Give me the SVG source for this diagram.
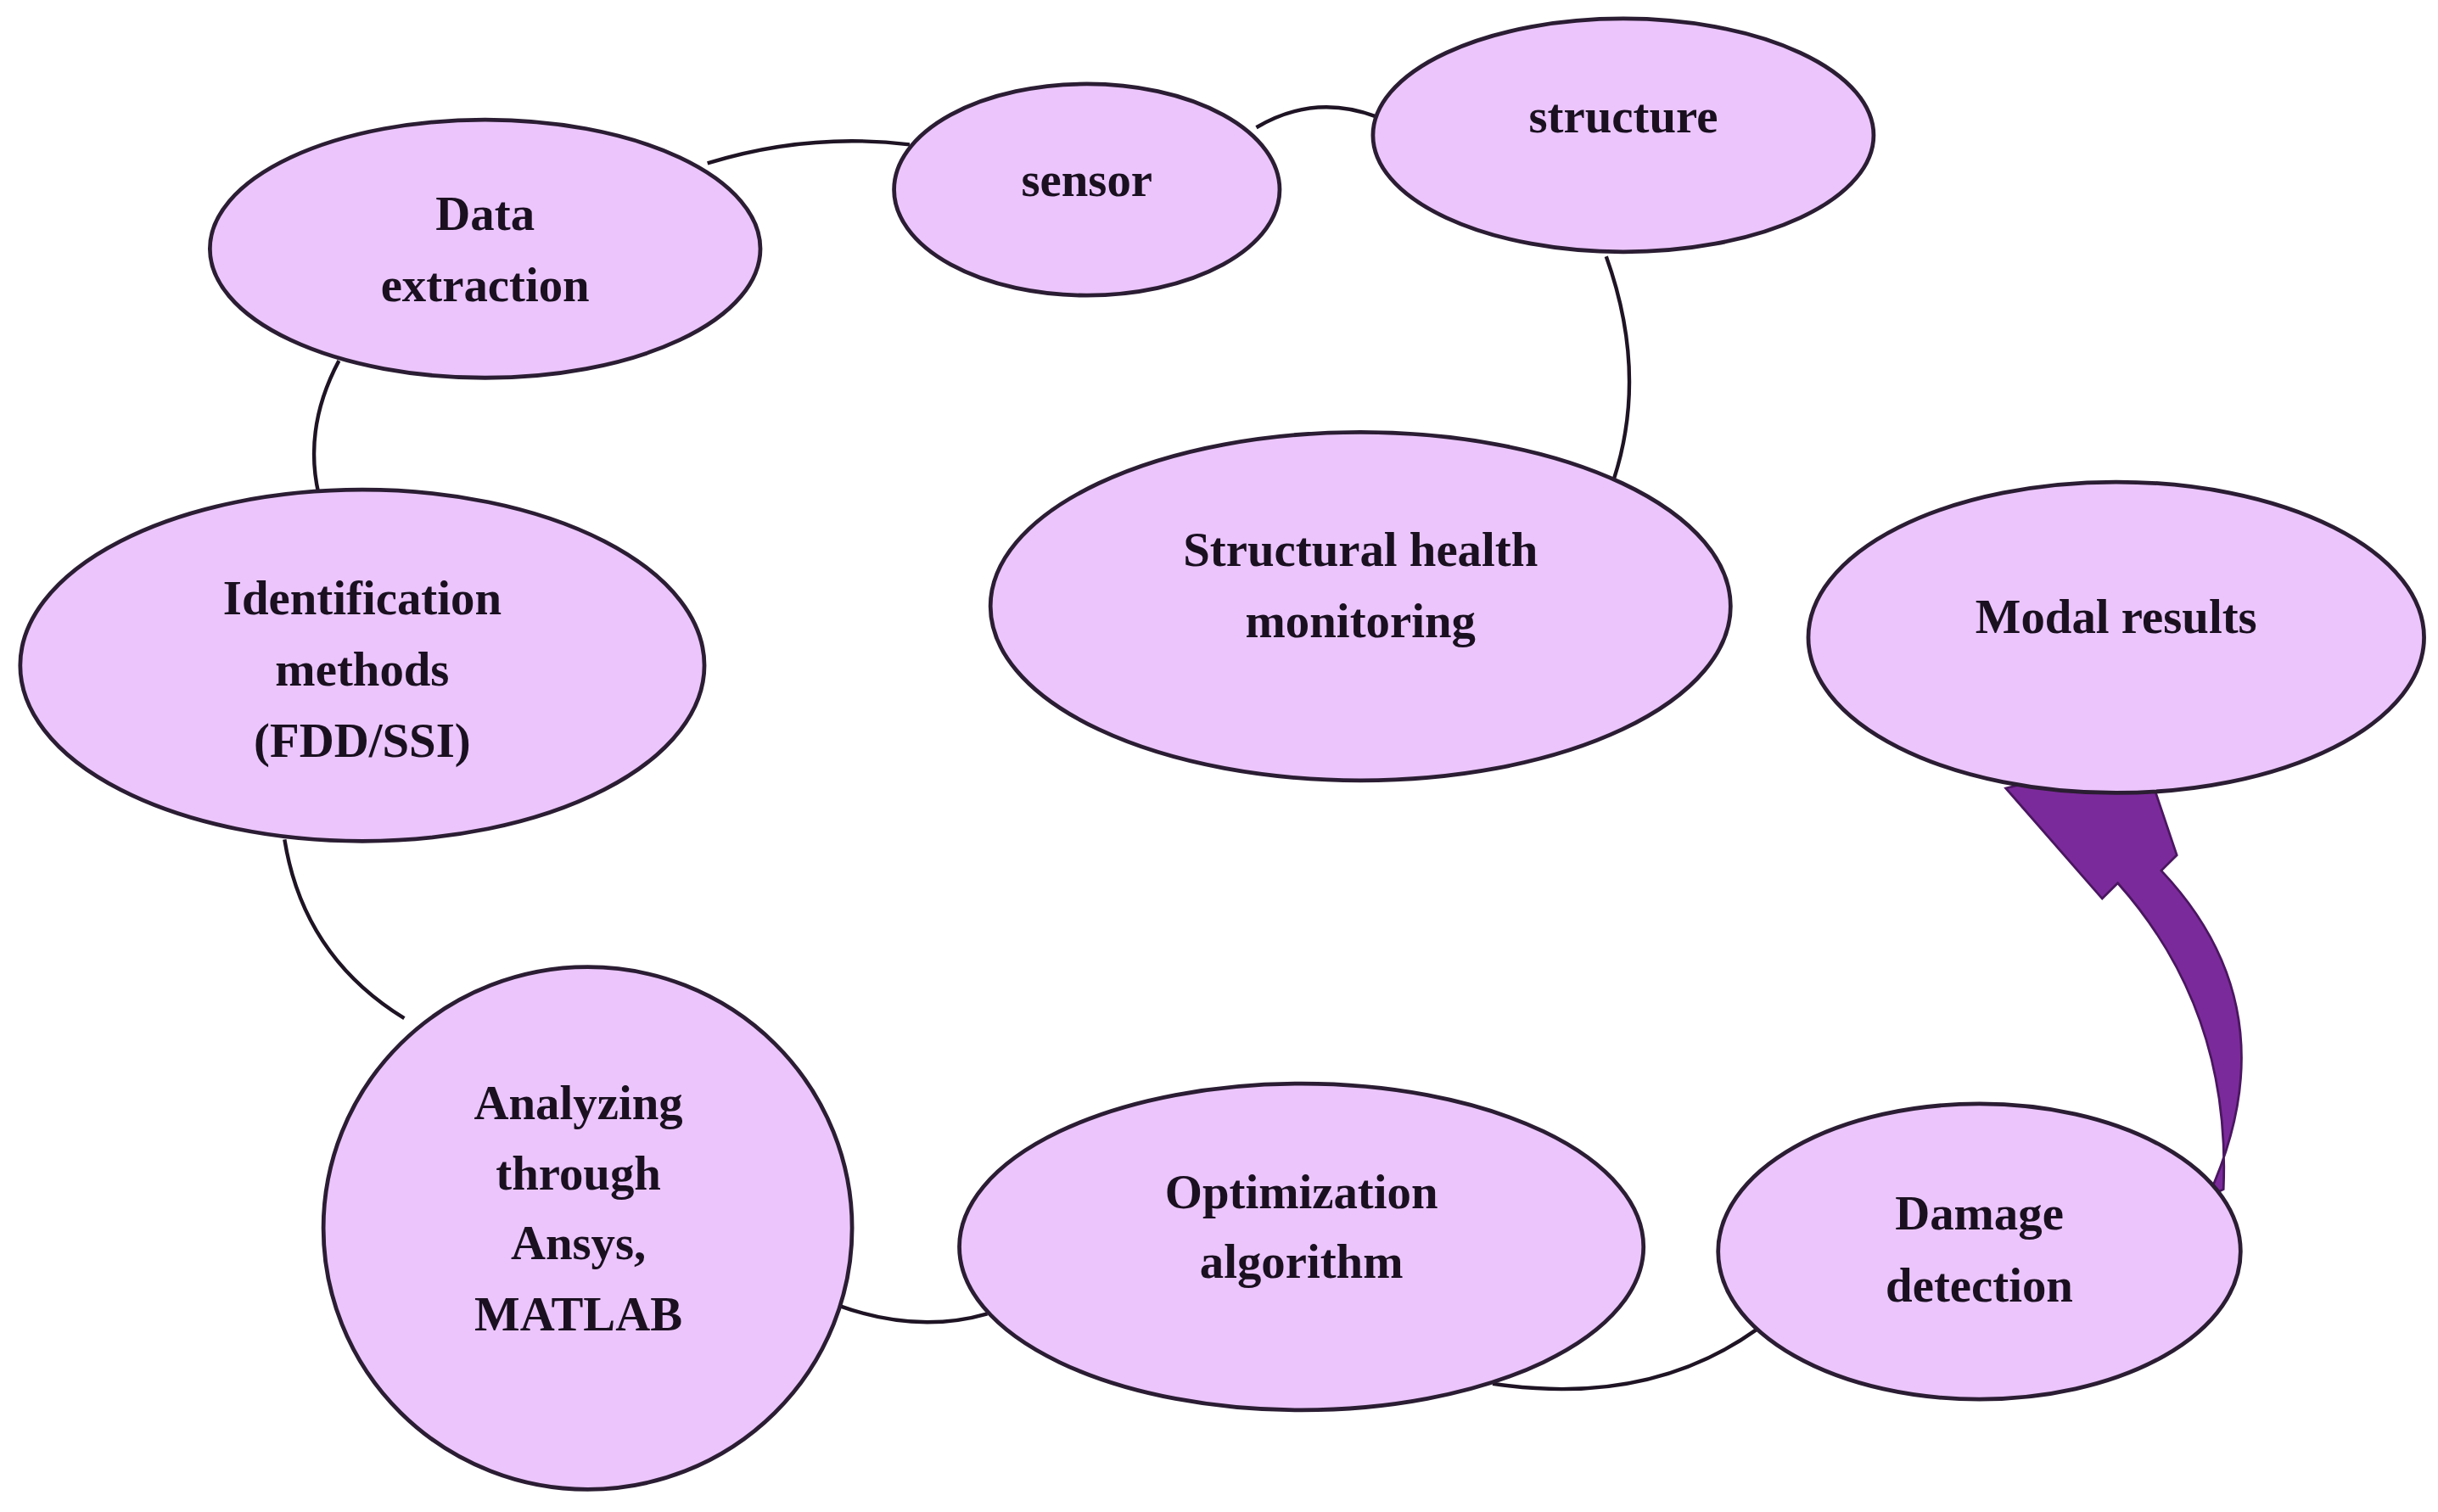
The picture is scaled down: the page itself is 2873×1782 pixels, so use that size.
<svg xmlns="http://www.w3.org/2000/svg" width="2873" height="1782" viewBox="0 0 2873 1782">
<style>
.n{fill:#ebc5fb;stroke:#2b1d33;stroke-width:2.6}
.c{fill:none;stroke:#1e1424;stroke-width:2.4}
.t{font-family:"Liberation Serif",serif;font-weight:bold;font-size:31px;fill:#1a1020;text-anchor:middle}
</style>
<rect width="2873" height="1782" fill="#fff"/>
<g transform="scale(1.8323)">
<g id="connectors">
<path class="c" d="M455,105 Q520,85 585,93"/>
<path class="c" d="M808,82 Q845,60 885,75"/>
<path class="c" d="M1033,165 Q1060,240 1038,308"/>
<path class="c" d="M218,232 Q195,275 205,318"/>
<path class="c" d="M183,540 Q195,615 260,655"/>
<path class="c" d="M540,840 Q590,858 635,845"/>
<path class="c" d="M960,890 Q1060,905 1130,855"/>
<path d="M1420,770 Q1475,650 1390,560 L1400,550 L1378,485 L1290,507 L1352,578 L1362,568 Q1435,650 1430,765 Z" fill="#7b2a9b" stroke="#4a1660" stroke-width="1.5"/>
</g>
<g id="data-extraction"><ellipse class="n" cx="312" cy="160" rx="177" ry="83"/><text class="t" x="312" y="148">Data</text><text class="t" x="312" y="194">extraction</text></g>
<g id="sensor"><ellipse class="n" cx="699" cy="122" rx="124" ry="68"/><text class="t" x="699" y="126">sensor</text></g>
<g id="structure"><ellipse class="n" cx="1044" cy="87" rx="161" ry="75"/><text class="t" x="1044" y="85">structure</text></g>
<g id="shm"><ellipse class="n" cx="875" cy="390" rx="238" ry="112"/><text class="t" x="875" y="364">Structural health</text><text class="t" x="875" y="410">monitoring</text></g>
<g id="modal-results"><ellipse class="n" cx="1361" cy="410" rx="198" ry="100"/><text class="t" x="1361" y="407">Modal results</text></g>
<g id="identification"><ellipse class="n" cx="233" cy="428" rx="220" ry="113"/><text class="t" x="233" y="395">Identification</text><text class="t" x="233" y="441">methods</text><text class="t" x="233" y="487">(FDD/SSI)</text></g>
<g id="analyzing"><ellipse class="n" cx="378" cy="790" rx="170" ry="168"/><text class="t" x="372" y="720">Analyzing</text><text class="t" x="372" y="765">through</text><text class="t" x="372" y="810">Ansys,</text><text class="t" x="372" y="856">MATLAB</text></g>
<g id="optimization"><ellipse class="n" cx="837" cy="802" rx="220" ry="105"/><text class="t" x="837" y="777">Optimization</text><text class="t" x="837" y="822">algorithm</text></g>
<g id="damage"><ellipse class="n" cx="1273" cy="805" rx="168" ry="95"/><text class="t" x="1273" y="791">Damage</text><text class="t" x="1273" y="837">detection</text></g>
</g>
</svg>
